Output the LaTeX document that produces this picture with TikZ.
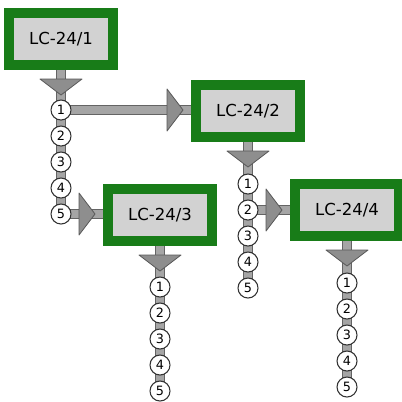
\documentclass[tikz,border=0pt]{standalone}
\usepackage{fontspec}
\setmainfont{DejaVu Sans}
\usetikzlibrary{calc,backgrounds}
\definecolor{boxgreen}{RGB}{24,124,24}
\definecolor{boxgray}{RGB}{210,210,210}
\definecolor{pipefill}{RGB}{165,165,165}
\definecolor{pipeline}{RGB}{100,100,100}
\definecolor{trifill}{RGB}{142,142,142}
\begin{document}
\begin{tikzpicture}[x=0.75pt,y=-0.75pt,
  lcbox/.style={draw=boxgreen, line width=7.5pt, fill=boxgray, minimum width=78pt,
    minimum height=39pt, inner sep=0pt, font=\fontsize{12.4}{14}\selectfont},
  port/.style={circle, draw=black!80, line width=0.8pt, fill=white, minimum size=15pt,
    inner sep=0pt, font=\fontsize{9.6}{10}\selectfont},
  pipe/.style={draw=pipeline, line width=0.6pt, double=pipefill, double distance=6.4pt},
  tri/.style={fill=trifill, draw=black!65, line width=0.6pt, line join=round}]
\useasboundingbox (0,0) rectangle (402,401);
\node[lcbox] (b1) at (61,39) {LC-24/1};
\node[lcbox] (b2) at (248,111) {LC-24/2};
\node[lcbox] (b3) at (160,215) {LC-24/3};
\node[lcbox] (b4) at (347,210) {LC-24/4};
\foreach \b/\x/\y in {b1/61/110, b2/248/184, b3/160/287, b4/347/283}
  \foreach \i in {1,...,5}
    \node[port] (\b c\i) at (\x,{\y+26*(\i-1)}) {\i};
\begin{pgfonlayer}{background}
  \foreach \b in {b1,b2,b3,b4}
    \draw[pipe] (\b.center) -- (\b c5.center);
  \draw[pipe] (b1c1.center) -- (b1c1 -| b2.center);
  \draw[pipe] (b1c5.center) -- (b1c5 -| b3.center);
  \draw[pipe] (b2c2.center) -- (b2c2 -| b4.center);
  \foreach \b in {b1,b2,b3,b4}
    \draw[tri] ($(\b.south)+(-21,9)$) -- ++(42,0) -- ++(-21,16) -- cycle;
  \draw[tri] ($(b1c1 -| b2.west)+(-24,-21)$) -- ++(0,42) -- ++(16,-21) -- cycle;
  \draw[tri] ($(b1c5 -| b3.west)+(-24,-21)$) -- ++(0,42) -- ++(16,-21) -- cycle;
  \draw[tri] ($(b2c2 -| b4.west)+(-24,-21)$) -- ++(0,42) -- ++(16,-21) -- cycle;
\end{pgfonlayer}
\end{tikzpicture}
\end{document}
